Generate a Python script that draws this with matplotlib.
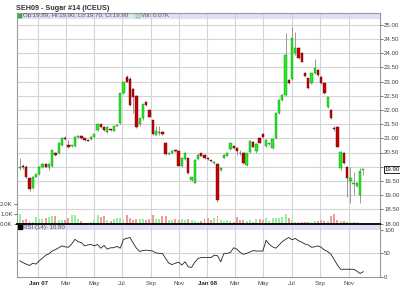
import numpy as np
import pandas as pd
import matplotlib
matplotlib.use("Agg")
import matplotlib.pyplot as plt
import matplotlib.dates as mdates

plt.rcParams['font.family'] = ['Liberation Sans', 'DejaVu Sans']

# weekly bars, SEH09 sugar #14
opens = [19.97, 20.00, 20.00, 19.60, 19.25, 19.65, 19.74, 19.98, 20.10, 20.00,
         20.03, 20.49, 20.50, 20.76, 21.00, 20.76, 20.72, 20.73, 21.06, 21.08,
         21.00, 20.93, 20.98, 21.06, 21.29, 21.50, 21.40, 21.23, 21.30, 21.27,
         21.45, 21.55, 22.60, 23.15, 23.10, 22.73, 22.49, 21.50, 21.70, 22.29,
         22.00, 21.64, 21.12, 21.20, 21.23, 20.85, 20.45, 20.49, 20.56, 20.56,
         20.03, 20.26, 20.30, 19.53, 19.44, 20.26, 20.47, 20.41, 20.27, 20.21,
         20.12, 20.10, 19.88, 20.32, 20.38, 20.61, 20.73, 20.67, 20.48, 20.49,
         20.06, 20.53, 20.88, 20.56, 21.00, 21.15, 20.73, 20.80, 20.67, 21.00,
         21.88, 22.35, 22.52, 23.05, 23.10, 24.00, 24.17, 23.99, 23.29, 23.11,
         22.94, 23.29, 23.40, 23.17, 22.94, 22.09, 22.00, 21.36, 21.39, 19.94,
         20.49, 20.00, 19.51, 19.40, 19.32, 19.00, 19.89]
highs = [20.30, 20.10, 20.05, 19.65, 19.68, 19.76, 20.02, 20.12, 20.12, 20.12,
         20.60, 20.52, 20.87, 21.03, 21.08, 20.94, 20.78, 21.08, 21.12, 21.10,
         21.02, 20.95, 21.08, 21.16, 21.52, 21.52, 21.42, 21.42, 21.32, 21.45,
         21.48, 22.60, 23.00, 23.23, 23.15, 22.78, 22.52, 21.72, 22.22, 22.32,
         22.03, 21.66, 21.45, 21.45, 21.25, 20.88, 20.50, 20.58, 20.58, 20.58,
         20.32, 20.51, 20.32, 19.65, 20.26, 20.50, 20.50, 20.43, 20.29, 20.23,
         20.20, 20.12, 19.96, 20.43, 20.51, 20.84, 20.76, 20.70, 20.60, 20.52,
         20.50, 20.95, 20.92, 20.82, 21.03, 21.20, 20.96, 20.85, 20.98, 21.90,
         22.38, 22.55, 24.71, 23.08, 24.93, 24.75, 24.20, 24.02, 23.32, 23.14,
         23.31, 23.78, 23.43, 23.20, 22.97, 22.47, 22.03, 21.45, 21.42, 20.55,
         20.52, 20.03, 20.00, 19.80, 19.46, 19.95, 19.90]
lows = [19.88, 19.92, 19.60, 19.15, 19.20, 19.62, 19.70, 19.95, 19.98, 19.88,
        20.00, 20.38, 20.45, 20.72, 20.95, 20.66, 20.68, 20.70, 21.02, 20.98,
        20.92, 20.90, 20.95, 21.04, 21.25, 21.38, 21.27, 21.20, 21.27, 21.25,
        21.42, 21.52, 22.55, 22.97, 22.15, 21.89, 21.38, 21.45, 21.65, 22.15,
        21.74, 21.13, 21.10, 21.10, 21.12, 20.42, 20.40, 20.46, 20.53, 20.02,
        20.00, 20.24, 19.75, 19.50, 19.42, 20.24, 20.36, 20.28, 20.24, 20.18,
        20.10, 18.77, 19.85, 20.30, 20.36, 20.58, 20.63, 20.40, 20.40, 20.10,
        20.04, 20.50, 20.68, 20.50, 20.83, 21.02, 20.70, 20.76, 20.64, 20.97,
        21.85, 22.32, 22.50, 22.92, 23.05, 23.95, 23.80, 23.68, 23.17, 22.74,
        22.90, 23.26, 23.21, 22.92, 22.56, 22.05, 21.68, 21.27, 20.68, 19.90,
        20.10, 18.94, 18.72, 19.00, 19.28, 18.72, 19.70]
closes = [20.00, 19.98, 19.65, 19.21, 19.65, 19.74, 20.00, 20.10, 20.00, 20.10,
          20.59, 20.41, 20.85, 21.01, 20.98, 20.69, 20.74, 21.06, 21.08, 21.00,
          20.94, 20.92, 21.06, 21.14, 21.50, 21.40, 21.29, 21.40, 21.29, 21.43,
          21.46, 22.58, 22.99, 22.99, 22.17, 22.46, 21.41, 21.70, 22.20, 22.17,
          21.76, 21.15, 21.27, 21.22, 21.14, 20.44, 20.46, 20.56, 20.55, 20.04,
          20.30, 20.49, 19.77, 19.63, 20.24, 20.41, 20.38, 20.30, 20.26, 20.20,
          20.18, 18.83, 19.94, 20.41, 20.49, 20.82, 20.65, 20.55, 20.47, 20.12,
          20.47, 20.92, 20.70, 20.80, 20.85, 21.04, 20.94, 20.81, 20.96, 21.88,
          22.35, 22.52, 23.93, 22.94, 24.52, 24.17, 23.82, 23.70, 23.19, 22.76,
          23.29, 23.46, 23.23, 22.94, 22.58, 22.44, 21.70, 21.34, 20.70, 20.53,
          20.12, 19.59, 19.59, 19.42, 19.44, 19.86, 19.90]
volume_k = [1.0, 0.4, 0.43, 0.27, 0.13, 0.67, 0.47, 0.5, 0.57, 0.67,
            0.73, 0.73, 0.33, 0.35, 0.4, 0.6, 0.83, 0.83, 0.5, 0.27,
            0.1, 0.1, 0.15, 0.35, 0.83, 0.67, 0.73, 0.35, 0.27, 0.45,
            0.55, 0.6, 0.4, 0.83, 0.55, 0.4, 0.45, 0.5, 0.45, 0.4,
            0.5, 0.83, 0.5, 0.45, 0.73, 0.73, 0.4, 0.33, 0.45, 0.4,
            0.45, 0.33, 0.45, 0.33, 0.3, 0.2, 0.27, 0.45, 0.55, 0.4,
            0.55, 0.73, 0.33, 0.27, 0.4, 0.27, 0.2, 0.67, 0.4, 0.33,
            0.27, 0.35, 0.2, 0.45, 0.5, 0.4, 0.55, 0.27, 0.55, 0.6,
            0.6, 0.65, 1.0, 0.55, 0.4, 0.15, 0.13, 0.13, 0.13, 0.15,
            0.13, 0.25, 0.3, 0.4, 0.3, 0.27, 0.8, 0.93, 0.35, 0.27,
            0.27, 0.2, 0.2, 0.15, 0.15, 0.1, 0.07]
rsi = [34, 30, 27, 24, 29, 27, 34, 40, 46, 49,
       55, 58, 62, 66, 64, 63, 70, 80, 75, 73,
       66, 68, 69, 66, 69, 61, 67, 59, 62, 62,
       65, 61, 80, 82, 84, 72, 61, 54, 56, 57,
       56, 55, 51, 50, 50, 39, 29, 26, 29, 31,
       25, 32, 21, 20, 31, 39, 41, 41, 41, 41,
       46, 45, 32, 50, 50, 52, 62, 59, 52, 48,
       50, 53, 56, 55, 55, 55, 78, 69, 64, 61,
       68, 75, 80, 84, 79, 82, 77, 74, 70, 68,
       63, 64, 66, 63, 57, 54, 48, 37, 25, 16,
       16, 16, 16, 16, 12, 7, 10.8]
price_ticks = np.arange(18.0, 25.01, 0.5)

dates = pd.date_range('2006-11-22', periods=len(closes), freq='7D')
xd = mdates.date2num(dates)
o = np.array(opens); h = np.array(highs); l = np.array(lows); c = np.array(closes)
up = c >= o

W, H = 400, 292
def fx(px): return px / W
def fy(py): return 1 - py / H

fig = plt.figure(figsize=(4, 2.92), dpi=100)
L, R = 17, 380
ax = fig.add_axes([fx(L), fy(223.5), fx(R - L), (223.5 - 12.5) / H])
axv = fig.add_axes([fx(L), fy(223.5), fx(R - L), 30 / H])
axr = fig.add_axes([fx(L), fy(277), fx(R - L), (277 - 223.5) / H])

x0 = mdates.date2num(pd.Timestamp('2006-11-16'))
x1 = mdates.date2num(pd.Timestamp('2009-01-08'))
grid_c = '#d4d4d4'
txt_c = '#444444'
fs = 4.4

months = pd.date_range('2007-01-01', '2008-11-01', freq='2MS')
mnum = mdates.date2num(months)

# price panel
ax.set_xlim(x0, x1)
ax.set_ylim(18.0, 18.0 + 211 / 28.4)
ax.axhspan(25.2, 30, color='#dfdff7', zorder=0, lw=0)
for m in mnum:
    ax.axvline(m, color=grid_c, lw=0.8, zorder=0.5)
for p in price_ticks[1:]:
    ax.axhline(p, color=grid_c, lw=0.8, zorder=0.5)
ax.vlines(xd, l, h, color='#8a8a8a', lw=0.6, zorder=2)
body = np.maximum(np.abs(c - o), 0.03)
ax.bar(xd, body, bottom=np.minimum(o, c), width=5.0,
       color=np.where(up, '#22ee22', '#cc0000'),
       edgecolor=np.where(up, '#118811', '#550000'), lw=0.3, zorder=3)
ax.set_yticks(price_ticks)
# the last-price box sits where 20.00 would be
ax.set_yticklabels(['' if abs(v - 20.0) < 1e-6 else '%.2f' % v for v in price_ticks])
ax.yaxis.tick_right()
ax.tick_params(axis='y', labelsize=fs, colors=txt_c, length=2, width=0.5, pad=1)
ax.set_xticks([])
for s in ['left', 'right', 'top']:
    ax.spines[s].set_color('#999999'); ax.spines[s].set_linewidth(0.8)
ax.spines['bottom'].set_visible(False)
ax.text(1.012, closes[-1], '19.90', transform=ax.get_yaxis_transform(),
        fontsize=fs, color='#111111', va='center', ha='left', zorder=10, clip_on=False,
        bbox=dict(facecolor='white', edgecolor='black', lw=0.6, pad=0.6))
ax.plot([0.008], [0.985], 's', ms=2.2, color='#22cc22', mec='#117711', mew=0.3,
        transform=ax.transAxes, clip_on=False)
ax.text(0.016, 0.985, 'Op:19.89, Hi:19.90, Lo:19.70, Cl:19.90', transform=ax.transAxes,
        fontsize=fs, color='#555555', va='center')
ax.plot([0.333], [0.985], 's', ms=2.2, color='#aaeeaa', mec='#66aa66', mew=0.3,
        transform=ax.transAxes, clip_on=False)
ax.text(0.342, 0.985, 'Vol: 0.07K', transform=ax.transAxes,
        fontsize=fs, color='#555555', va='center')
fig.text(fx(16), fy(8), 'SEH09 - Sugar #14 (ICEUS)', fontsize=5.2, fontweight='bold',
         color='#333333', va='center')

# volume overlay
axv.set_xlim(x0, x1)
axv.set_ylim(0, 3)
axv.patch.set_alpha(0)
axv.bar(xd, volume_k, width=4.2, color=np.where(up, '#99ee99', '#f09a9a'), lw=0, zorder=2)
axv.set_yticks([0, 1, 2])
axv.set_yticklabels(['0.0K', '1.0K', '2.0K'])
axv.tick_params(axis='y', labelsize=fs, colors=txt_c, length=2, width=0.5, pad=1)
axv.set_xticks([])
for s in axv.spines.values():
    s.set_visible(False)

# rsi panel
axr.set_xlim(x0, x1)
axr.set_ylim(-0.6, 100 + 6.5 / 0.467)
axr.axhspan(100, 200, color='#dfdff7', zorder=0, lw=0)
for m in mnum:
    axr.axvline(m, color=grid_c, lw=0.8, zorder=0.5)
axr.axhline(50, color=grid_c, lw=0.8, zorder=0.5)
axr.plot(xd, rsi, color='#222222', lw=0.6, zorder=3)
axr.yaxis.tick_right()
axr.set_yticks([0, 50, 100])
axr.set_yticklabels(['0', '50', '100'])
axr.tick_params(axis='y', labelsize=fs, colors=txt_c, length=2, width=0.5, pad=1)
axr.set_xticks(mnum)
labs = [('Jan %s' % m.strftime('%y')) if m.month == 1 else m.strftime('%b') for m in months]
axr.set_xticklabels(labs)
axr.tick_params(axis='x', labelsize=fs, colors=txt_c, length=0, pad=3)
for t, m in zip(axr.get_xticklabels(), months):
    if m.month == 1:
        t.set_fontweight('bold'); t.set_color('#222222')
for s in ['left', 'right', 'bottom']:
    axr.spines[s].set_color('#999999'); axr.spines[s].set_linewidth(0.8)
axr.spines['top'].set_color('black'); axr.spines['top'].set_linewidth(1.3)
axr.plot([0.008], [0.93], 's', ms=2.2, color='black', transform=axr.transAxes, clip_on=False)
axr.text(0.016, 0.93, 'RSI (14): 10.80', transform=axr.transAxes,
         fontsize=fs, color='#555555', va='center')

fig.savefig('out.png', dpi=100)
